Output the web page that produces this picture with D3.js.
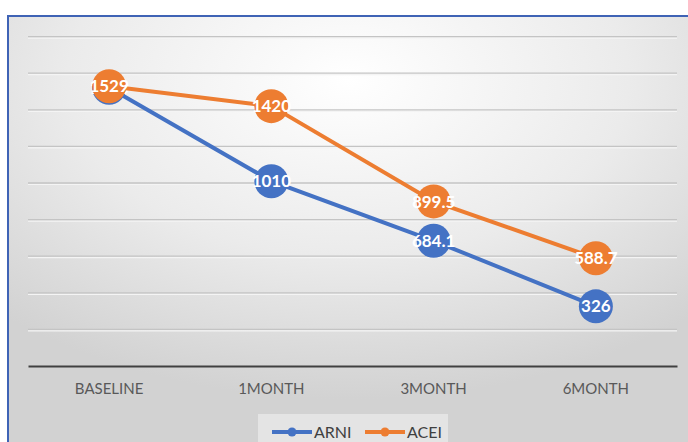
<!DOCTYPE html>
<html>
<head>
<meta charset="utf-8">
<script src="https://cdn.jsdelivr.net/npm/d3@7"></script>
<style>
  body { margin: 0; background: #fff; }
  svg { display: block; }
</style>
</head>
<body>
<svg width="688" height="442"></svg>
<script>
// chart data
const categories = ["BASELINE", "1MONTH", "3MONTH", "6MONTH"]
const arni = [1520, 1010, 684.1, 326]
const acei = [1529, 1420, 899.5, 588.7]
const yTicks = [0, 200, 400, 600, 800, 1000, 1200, 1400, 1600, 1800]

const series = [
    { name: "ARNI", values: arni, color: "#4472C4" },
    { name: "ACEI", values: acei, color: "#ED7D31" }
]

let svg = d3.select("svg")
let width = +svg.attr("width")
let height = +svg.attr("height")

let margin = { top: 36.6, right: 11, bottom: 76, left: 28 }

// background gradient
let defs = svg.append("defs")
let grad = defs.append("radialGradient")
    .attr("id", "bg")
    .attr("cx", "50%").attr("cy", "15%")
    .attr("r", "75%")
grad.append("stop").attr("offset", "0%").attr("stop-color", "#ffffff")
grad.append("stop").attr("offset", "55%").attr("stop-color", "#ebebeb")
grad.append("stop").attr("offset", "100%").attr("stop-color", "#d2d2d2")

svg.append("rect")
    .attr("x", 8).attr("y", 16)
    .attr("width", width - 8).attr("height", height - 16)
    .style("fill", "url(#bg)")

// frame, only top and left visible
svg.append("path")
    .attr("d", `M8,${height} V16 H${width}`)
    .style("fill", "none")
    .style("stroke", "#3f63b5")
    .style("stroke-width", 2)

let x = d3.scaleBand()
    .domain(categories)
    .range([margin.left, width - margin.right])

let y = d3.scaleLinear()
    .domain([0, 1800])
    .range([height - margin.bottom, margin.top])

// gridlines with a soft shadow
let grid = svg.append("g")
grid.selectAll("line.shadow")
    .data(yTicks.slice(1))
    .enter()
    .append("line")
        .attr("class", "shadow")
        .attr("x1", margin.left).attr("x2", width - margin.right)
        .attr("y1", d => y(d) + 1.5).attr("y2", d => y(d) + 1.5)
        .style("stroke", "#f4f4f4")
        .style("stroke-width", 1.2)
grid.selectAll("line.major")
    .data(yTicks.slice(1))
    .enter()
    .append("line")
        .attr("class", "major")
        .attr("x1", margin.left).attr("x2", width - margin.right)
        .attr("y1", d => y(d)).attr("y2", d => y(d))
        .style("stroke", "#c4c4c4")
        .style("stroke-width", 1.3)

// category axis
let xAxis = svg.append("g")
    .attr("transform", `translate(0,${y(0)})`)
    .call(d3.axisBottom(x).tickSize(0).tickPadding(17))
xAxis.select(".domain")
    .style("stroke", "#404040")
    .style("stroke-width", 2.2)
xAxis.selectAll("text")
    .style("font-family", "Lato, 'Open Sans', sans-serif")
    .style("font-size", "15px")
    .style("fill", "#595959")

let line = d3.line()
    .x((d, i) => x(categories[i]) + x.bandwidth() / 2)
    .y(d => y(d))

series.forEach(function (s) {
    let g = svg.append("g")
    g.append("path")
        .datum(s.values)
        .attr("d", line)
        .style("fill", "none")
        .style("stroke", s.color)
        .style("stroke-width", 4)
    g.selectAll("circle")
        .data(s.values)
        .enter()
        .append("circle")
            .attr("cx", (d, i) => x(categories[i]) + x.bandwidth() / 2)
            .attr("cy", d => y(d))
            .attr("r", 17)
            .style("fill", s.color)
    g.selectAll("text")
        .data(s.values)
        .enter()
        .append("text")
            .attr("x", (d, i) => x(categories[i]) + x.bandwidth() / 2)
            .attr("y", d => y(d))
            .attr("dy", "0.36em")
            .attr("text-anchor", "middle")
            .style("font-family", "Lato, 'Open Sans', sans-serif")
            .style("font-weight", "bold")
            .style("font-size", "17px")
            .style("fill", "#ffffff")
            .text(d => d)
})

// legend
let legend = svg.append("g")
legend.append("rect")
    .attr("x", 258).attr("y", 414)
    .attr("width", 190).attr("height", 30)
    .style("fill", "#e4e4e4")

let items = legend.selectAll("g.item")
    .data(series)
    .enter()
    .append("g")
        .attr("class", "item")
        .attr("transform", (d, i) => `translate(${272 + i * 93},432)`)
items.append("line")
    .attr("x1", 0).attr("x2", 40)
    .style("stroke", d => d.color)
    .style("stroke-width", 4)
items.append("circle")
    .attr("cx", 20).attr("r", 4.5)
    .style("fill", d => d.color)
items.append("text")
    .attr("x", 42)
    .attr("dy", "0.36em")
    .style("font-family", "Lato, 'Open Sans', sans-serif")
    .style("font-size", "16px")
    .style("fill", "#404040")
    .text(d => d.name)
</script>
</body>
</html>
